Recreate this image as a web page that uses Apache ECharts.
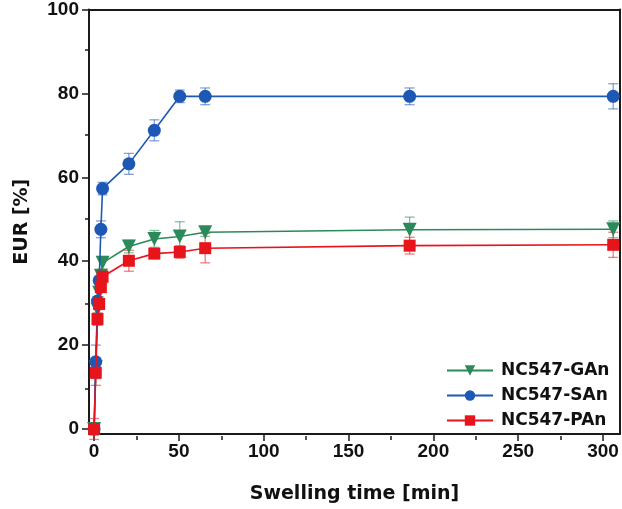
<!DOCTYPE html>
<html>
<head>
<meta charset="utf-8">
<script src="https://cdn.jsdelivr.net/npm/echarts@6/dist/echarts.min.js"></script>
<style>
html,body{margin:0;padding:0;background:#fff;}
#c{width:622px;height:509px;}
</style>
</head>
<body>
<div id="c"></div>
<script>
// ---- data ----
const timeMin = [0, 1, 2, 3, 4, 5, 20.5, 35.5, 50.5, 65.5, 186, 306];
const gAn = [0, 14.8, 28.5, 32.5, 36.5, 39.6, 43.5, 45.3, 45.9, 46.9, 47.5, 47.6];
const gAnErr = [1.5, 1, 1, 1, 1, 1.5, 1.5, 2, 3.5, 1, 3, 2];
const sAn = [0, 16, 30.5, 35.4, 47.6, 57.3, 63.2, 71.2, 79.3, 79.3, 79.3, 79.3];
const sAnErr = [1, 4, 1, 1, 2, 1.5, 2.5, 2.5, 1.5, 2, 2, 3];
const pAn = [0, 13.4, 26.2, 29.8, 33.8, 36.3, 40.1, 41.8, 42.2, 43.1, 43.7, 43.9];
const pAnErr = [2.5, 3, 1.5, 1, 1, 1.5, 2.5, 0.8, 1.5, 3.5, 2, 3];
const seriesNames = ['NC547-GAn', 'NC547-SAn', 'NC547-PAn'];
const xMajor = [0, 50, 100, 150, 200, 250, 300];
const xMinor = [25, 75, 125, 175, 225, 275];
const yMajor = [0, 20, 40, 60, 80, 100];
const yMinor = [10, 30, 50, 70, 90];

const colors = ['#2b8a5a', '#1c58b4', '#e8141b'];
const errColors = ['rgba(43,138,90,0.55)', 'rgba(28,88,180,0.55)', 'rgba(232,20,27,0.55)'];

function pts(vals) { return timeMin.map((t, i) => [t, vals[i]]); }
function errPts(vals, errs) { return timeMin.map((t, i) => [t, vals[i], errs[i]]); }

const gridPos = {left: 89, right: 2, top: 7.5, bottom: 73};
const axisColor = '#1a1a1a';
const X_MIN = -3, X_MAX = 310, Y_MIN = -1.2, Y_MAX = 100;

function errorSeries(idx, vals, errs) {
  return {
    type: 'custom',
    xAxisIndex: 0, yAxisIndex: 0,
    z: 1,
    silent: true,
    data: errPts(vals, errs),
    renderItem: function (params, api) {
      const x = api.value(0), y = api.value(1), e = api.value(2);
      const hi = api.coord([x, y + e]);
      const lo = api.coord([x, y - e]);
      const cap = 5;
      const st = {stroke: errColors[idx], lineWidth: 1.3};
      return {
        type: 'group',
        children: [
          {type: 'line', shape: {x1: hi[0], y1: hi[1], x2: lo[0], y2: lo[1]}, style: st},
          {type: 'line', shape: {x1: hi[0] - cap, y1: hi[1], x2: hi[0] + cap, y2: hi[1]}, style: st},
          {type: 'line', shape: {x1: lo[0] - cap, y1: lo[1], x2: lo[0] + cap, y2: lo[1]}, style: st}
        ]
      };
    }
  };
}

function lineSeries(idx, vals, symbol, size, rotate) {
  return {
    name: seriesNames[idx],
    type: 'line',
    xAxisIndex: 0, yAxisIndex: 0,
    z: 3 + idx,
    data: pts(vals),
    symbol: symbol,
    symbolSize: size,
    symbolRotate: rotate || 0,
    showAllSymbol: true,
    lineStyle: {color: colors[idx], width: 1.6},
    itemStyle: {color: colors[idx], borderWidth: 0},
    emphasis: {disabled: true},
    animation: false
  };
}

const chart = echarts.init(document.getElementById('c'), null, {renderer: 'canvas'});
chart.setOption({
  backgroundColor: '#fff',
  animation: false,
  grid: [Object.assign({}, gridPos), Object.assign({}, gridPos)],
  legend: {
    orient: 'vertical',
    left: 446, top: 362, padding: 0,
    itemWidth: 46, itemHeight: 13, itemGap: 8,
    data: seriesNames,
    textStyle: {fontFamily: 'DejaVu Sans', fontWeight: 'bold', fontSize: 17, color: '#111', padding: [0, 0, 0, 3]}
  },
  xAxis: [
    {
      type: 'value', gridIndex: 0, position: 'bottom', min: X_MIN, max: X_MAX,
      name: 'Swelling time [min]', nameLocation: 'middle', nameGap: 51,
      nameTextStyle: {fontFamily: 'DejaVu Sans', fontWeight: 'bold', fontSize: 19, color: '#111'},
      axisLine: {show: true, onZero: false, lineStyle: {color: axisColor, width: 2}},
      axisTick: {show: true, inside: false, length: 7, customValues: xMajor, lineStyle: {color: axisColor, width: 1.5}},
      axisLabel: {show: true, customValues: xMajor, margin: 8, fontFamily: 'Liberation Sans', fontWeight: 'bold', fontSize: 19, color: '#111'},
      splitLine: {show: false}
    },
    {
      type: 'value', gridIndex: 0, position: 'top', min: X_MIN, max: X_MAX,
      axisLine: {show: true, onZero: false, lineStyle: {color: axisColor, width: 2}},
      axisTick: {show: false}, axisLabel: {show: false}, splitLine: {show: false}
    },
    {
      type: 'value', gridIndex: 1, position: 'bottom', min: X_MIN, max: X_MAX,
      axisLine: {show: false, onZero: false},
      axisTick: {show: true, inside: false, length: 4, customValues: xMinor, lineStyle: {color: axisColor, width: 1.5}},
      axisLabel: {show: false}, splitLine: {show: false}
    }
  ],
  yAxis: [
    {
      type: 'value', gridIndex: 0, position: 'left', min: Y_MIN, max: Y_MAX,
      name: 'EUR [%]', nameLocation: 'middle', nameGap: 57, nameRotate: 90,
      nameTextStyle: {fontFamily: 'DejaVu Sans', fontWeight: 'bold', fontSize: 19, color: '#111'},
      axisLine: {show: true, onZero: false, lineStyle: {color: axisColor, width: 2}},
      axisTick: {show: true, inside: false, length: 7, customValues: yMajor, lineStyle: {color: axisColor, width: 1.5}},
      axisLabel: {show: true, customValues: yMajor, margin: 10, fontFamily: 'Liberation Sans', fontWeight: 'bold', fontSize: 19, color: '#111'},
      splitLine: {show: false}
    },
    {
      type: 'value', gridIndex: 0, position: 'right', min: Y_MIN, max: Y_MAX,
      axisLine: {show: true, onZero: false, lineStyle: {color: axisColor, width: 2}},
      axisTick: {show: false}, axisLabel: {show: false}, splitLine: {show: false}
    },
    {
      type: 'value', gridIndex: 1, position: 'left', min: Y_MIN, max: Y_MAX,
      axisLine: {show: false, onZero: false},
      axisTick: {show: true, inside: false, length: 4, customValues: yMinor, lineStyle: {color: axisColor, width: 1.5}},
      axisLabel: {show: false}, splitLine: {show: false}
    }
  ],
  series: [
    errorSeries(0, gAn, gAnErr),
    errorSeries(1, sAn, sAnErr),
    errorSeries(2, pAn, pAnErr),
    lineSeries(0, gAn, 'triangle', 14, 180),
    lineSeries(1, sAn, 'circle', 13),
    lineSeries(2, pAn, 'rect', 12)
  ]
});
</script>
</body>
</html>
